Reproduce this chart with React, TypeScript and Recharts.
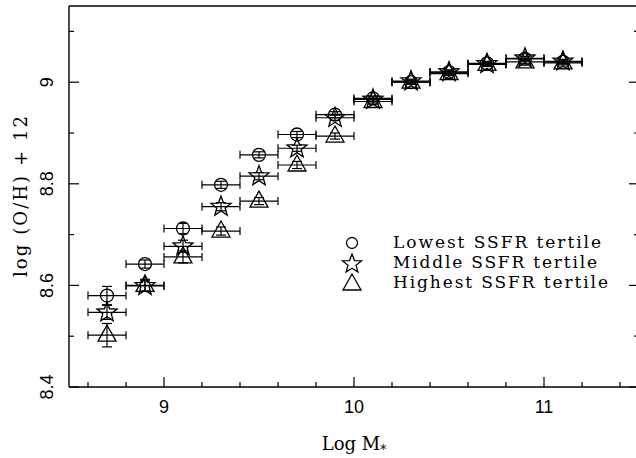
import { ErrorBar, Scatter, ScatterChart, XAxis, YAxis } from "recharts";

const mass = [8.7, 8.9, 9.1, 9.3, 9.5, 9.7, 9.9, 10.1, 10.3, 10.5, 10.7, 10.9, 11.1];
const massErr = [0.1, 0.1, 0.1, 0.1, 0.1, 0.1, 0.1, 0.1, 0.1, 0.1, 0.1, 0.1, 0.1];

const lowOH = [8.58, 8.642, 8.712, 8.798, 8.857, 8.897, 8.936, 8.968, 9.0, 9.02, 9.037, 9.046, 9.04];
const lowErr = [0.018, 0.008, 0.01, 0.007, 0.006, 0.006, 0.006, 0.005, 0.004, 0.004, 0.004, 0.004, 0.004];
const midOH = [8.547, 8.599, 8.677, 8.755, 8.815, 8.87, 8.93, 8.966, 9.002, 9.02, 9.036, 9.047, 9.041];
const midErr = [0.014, 0.01, 0.012, 0.008, 0.007, 0.006, 0.005, 0.005, 0.004, 0.004, 0.004, 0.004, 0.004];
const highOH = [8.502, 8.6, 8.656, 8.707, 8.766, 8.837, 8.894, 8.962, 9.0, 9.017, 9.035, 9.04, 9.038];
const highErr = [0.023, 0.012, 0.012, 0.008, 0.007, 0.007, 0.006, 0.005, 0.004, 0.004, 0.004, 0.004, 0.004];

const xTicks = [8.6, 8.8, 9, 9.2, 9.4, 9.6, 9.8, 10, 10.2, 10.4, 10.6, 10.8, 11, 11.2, 11.4];
const xMajor = [9, 10, 11];
const yTicks = [8.4, 8.5, 8.6, 8.7, 8.8, 8.9, 9, 9.1];
const yMajor = [8.4, 8.6, 8.8, 9];

const legendLabels = ["Lowest SSFR tertile", "Middle SSFR tertile", "Highest SSFR tertile"];
const legendWidths = [208, 204, 215];

const build = (ys: number[], errs: number[]) =>
  mass.map((m, i) => ({ x: m, y: ys[i], ex: massErr[i], ey: errs[i] }));

const lowData = build(lowOH, lowErr);
const midData = build(midOH, midErr);
const highData = build(highOH, highErr);

const isIn = (list: number[], v: number) => list.some((t) => Math.abs(t - v) < 1e-6);

const starPoints = (cx: number, cy: number, R: number) => {
  const r = R * 0.42;
  const pts: string[] = [];
  for (let i = 0; i < 10; i++) {
    const a = -Math.PI / 2 + (i * Math.PI) / 5;
    const rad = i % 2 === 0 ? R : r;
    pts.push(`${cx + rad * Math.cos(a)},${cy + rad * Math.sin(a)}`);
  }
  return pts.join(" ");
};

const Circle = ({ cx, cy }: any) => (
  <circle cx={cx} cy={cy} r={6.5} fill="none" stroke="#000" strokeWidth={1.3} />
);
const Star = ({ cx, cy }: any) => (
  <polygon points={starPoints(cx, cy, 10.5)} fill="none" stroke="#000" strokeWidth={1.3} />
);
const Triangle = ({ cx, cy }: any) => (
  <polygon
    points={`${cx},${cy - 10} ${cx - 9},${cy + 6} ${cx + 9},${cy + 6}`}
    fill="none"
    stroke="#000"
    strokeWidth={1.3}
  />
);

const BottomTick = ({ x, y, payload }: any) => {
  const major = isIn(xMajor, payload.value);
  return (
    <g>
      <line x1={x} y1={y} x2={x} y2={y - (major ? 10 : 5)} stroke="#000" strokeWidth={1.2} />
      {major && (
        <text x={x} y={y + 26} textAnchor="middle" fontFamily="Liberation Sans" fontSize={18} fill="#000">
          {String(payload.value)}
        </text>
      )}
    </g>
  );
};

const TopTick = ({ x, y, payload }: any) => {
  const major = isIn(xMajor, payload.value);
  return <line x1={x} y1={y} x2={x} y2={y + (major ? 10 : 5)} stroke="#000" strokeWidth={1.2} />;
};

const LeftTick = ({ x, y, payload }: any) => {
  const major = isIn(yMajor, payload.value);
  const tx = x - 16;
  return (
    <g>
      <line x1={x} y1={y} x2={x + (major ? 10 : 5)} y2={y} stroke="#000" strokeWidth={1.2} />
      {major && (
        <text
          x={tx}
          y={y}
          transform={`rotate(-90 ${tx} ${y})`}
          textAnchor="middle"
          fontFamily="Liberation Sans"
          fontSize={18}
          fill="#000"
        >
          {String(payload.value)}
        </text>
      )}
    </g>
  );
};

const RightTick = ({ x, y, payload }: any) => {
  const major = isIn(yMajor, payload.value);
  return <line x1={x} y1={y} x2={x - (major ? 10 : 5)} y2={y} stroke="#000" strokeWidth={1.2} />;
};

const XTitle = ({ viewBox }: any) => {
  const cx = viewBox.x + viewBox.width / 2;
  return (
    <text x={cx} y={450} textAnchor="middle" fontFamily="DejaVu Serif" fontSize={18} fill="#000">
      Log M
      <tspan fontSize={12} dy={4}>*</tspan>
    </text>
  );
};

const YTitle = ({ viewBox }: any) => {
  const cy = viewBox.y + viewBox.height / 2;
  const x = 27;
  return (
    <text
      x={x}
      y={cy}
      transform={`rotate(-90 ${x} ${cy})`}
      textAnchor="middle"
      fontFamily="DejaVu Serif"
      fontSize={18}
      textLength={161}
      lengthAdjust="spacing"
      fill="#000"
    >
      log (O/H) + 12
    </text>
  );
};

const LegendBox = () => (
  <svg
    width={290}
    height={75}
    style={{ position: "absolute", left: 340, top: 225, display: "block", pointerEvents: "none" }}
  >
    <circle cx={12} cy={18} r={5.5} fill="none" stroke="#000" strokeWidth={1.3} />
    <polygon points={starPoints(12, 39, 10)} fill="none" stroke="#000" strokeWidth={1.3} />
    <polygon points="12,49 3,65 21,65" fill="none" stroke="#000" strokeWidth={1.3} />
    {legendLabels.map((label, i) => (
      <text
        key={label}
        x={53}
        y={23 + i * 20}
        fontFamily="DejaVu Serif"
        fontSize={17}
        textLength={legendWidths[i]}
        lengthAdjust="spacing"
        fill="#000"
      >
        {label}
      </text>
    ))}
  </svg>
);

export default function App() {
  return (
    <div style={{ position: "absolute", left: 0, top: 0, width: 636, height: 458, overflow: "hidden", background: "#fff" }}>
      <ScatterChart width={650} height={458} margin={{ top: 5, right: 10, left: 9, bottom: 11 }}>
        <XAxis
          type="number"
          dataKey="x"
          domain={[8.5, 11.5]}
          ticks={xTicks}
          allowDataOverflow
          height={60}
          tickSize={0}
          tickMargin={0}
          tickLine={false}
          tick={<BottomTick />}
          axisLine={{ stroke: "#000", strokeWidth: 1.4 }}
          label={<XTitle />}
        />
        <XAxis
          xAxisId="top"
          orientation="top"
          type="number"
          domain={[8.5, 11.5]}
          ticks={xTicks}
          allowDataOverflow
          height={1}
          tickSize={0}
          tickMargin={0}
          tickLine={false}
          tick={<TopTick />}
          axisLine={{ stroke: "#000", strokeWidth: 1.4 }}
        />
        <YAxis
          type="number"
          dataKey="y"
          domain={[8.4, 9.15]}
          ticks={yTicks}
          allowDataOverflow
          width={60}
          tickSize={0}
          tickMargin={0}
          tickLine={false}
          tick={<LeftTick />}
          axisLine={{ stroke: "#000", strokeWidth: 1.4 }}
          label={<YTitle />}
        />
        <YAxis
          yAxisId="right"
          orientation="right"
          type="number"
          domain={[8.4, 9.15]}
          ticks={yTicks}
          allowDataOverflow
          width={1}
          tickSize={0}
          tickMargin={0}
          tickLine={false}
          tick={<RightTick />}
          axisLine={{ stroke: "#000", strokeWidth: 1.4 }}
        />
        <Scatter name="Highest SSFR tertile" data={highData} shape={<Triangle />} isAnimationActive={false}>
          <ErrorBar dataKey="ex" direction="x" width={4} stroke="#000" strokeWidth={1.2} isAnimationActive={false} />
          <ErrorBar dataKey="ey" direction="y" width={5} stroke="#000" strokeWidth={1.2} isAnimationActive={false} />
        </Scatter>
        <Scatter name="Middle SSFR tertile" data={midData} shape={<Star />} isAnimationActive={false}>
          <ErrorBar dataKey="ex" direction="x" width={4} stroke="#000" strokeWidth={1.2} isAnimationActive={false} />
          <ErrorBar dataKey="ey" direction="y" width={5} stroke="#000" strokeWidth={1.2} isAnimationActive={false} />
        </Scatter>
        <Scatter name="Lowest SSFR tertile" data={lowData} shape={<Circle />} isAnimationActive={false}>
          <ErrorBar dataKey="ex" direction="x" width={4} stroke="#000" strokeWidth={1.2} isAnimationActive={false} />
          <ErrorBar dataKey="ey" direction="y" width={5} stroke="#000" strokeWidth={1.2} isAnimationActive={false} />
        </Scatter>
      </ScatterChart>
      <LegendBox />
    </div>
  );
}
